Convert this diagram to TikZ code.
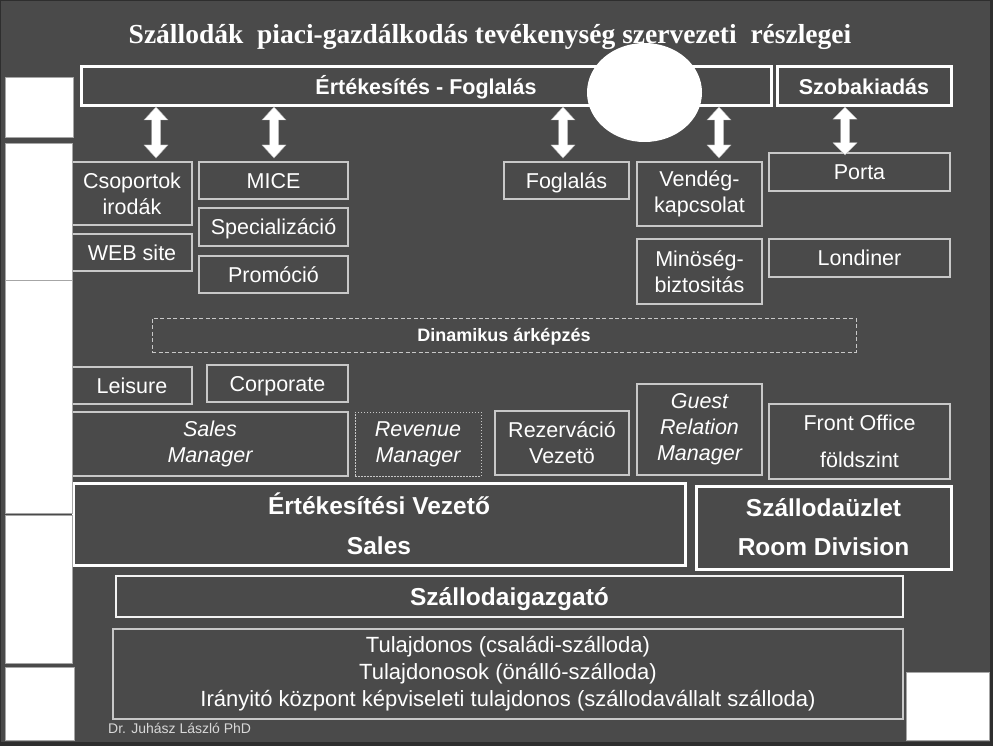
\documentclass[tikz,border=0pt]{standalone}
\usepackage{fontspec}
\setmainfont{Liberation Sans}
\newfontfamily\titlefont{Liberation Serif}
\usetikzlibrary{shapes.geometric}
\definecolor{bg}{HTML}{4A4A4A}
\definecolor{framec}{HTML}{2E2E2E}
\definecolor{thinc}{HTML}{C8C8C8}
\definecolor{footc}{HTML}{D8D8D8}
\newcommand{\regfont}{\fontsize{21.5}{26}\selectfont}
\newcommand{\bigbold}{\fontsize{24.5}{39}\selectfont\bfseries}
\tikzset{
  box/.style={draw=thinc, line width=1.3pt, inner sep=0pt, text=white, align=center, font=\regfont},
  oneline/.style={text height=15.5pt, text depth=0pt},
  thickbox/.style={draw=white, line width=3pt},
  leftbox/.style={fill=white, draw=gray!70, line width=0.8pt},
  dblarrow/.pic={\fill[white, draw=gray!60, line width=0.4pt] (0,-25.5) -- (12,-12.5) -- (4.5,-12.5) -- (4.5,12.5) -- (12,12.5) -- (0,25.5) -- (-12,12.5) -- (-4.5,12.5) -- (-4.5,-12.5) -- (-12,-12.5) -- cycle;}
}
\begin{document}
\begin{tikzpicture}[x=1pt, y=-1pt]
\useasboundingbox (0,0) rectangle (993,746);
\fill[framec] (0,0) rectangle (993,746);
\fill[bg] (1,1) rectangle (990,742);

% title
\node[anchor=base, text=white, inner sep=0pt, font=\titlefont\bfseries\fontsize{27.5}{30}\selectfont] (title) at (490,44)
  {Szállodák\ \ piaci-gazdálkodás tevékenység szervezeti\ \ részlegei};

% top bars
\node[box, thickbox, oneline, font=\regfont\bfseries, minimum width=690pt, minimum height=39pt] (ef) at (426,86.5) {Értékesítés - Foglalás};
\node[box, thickbox, oneline, font=\regfont\bfseries, minimum width=174pt, minimum height=39pt] (szk) at (864,86.5) {Szobakiadás};

% second row
\node[box, minimum width=120pt, minimum height=63pt] (csop) at (132,193.5) {Csoportok\\irodák};
\node[box, oneline, minimum width=120pt, minimum height=37pt] (web) at (132,252.5) {WEB site};
\node[box, oneline, minimum width=149pt, minimum height=37pt] (mice) at (273.5,180.5) {MICE};
\node[box, oneline, minimum width=149pt, minimum height=38pt] (spec) at (273.5,227) {Specializáció};
\node[box, oneline, minimum width=149pt, minimum height=37pt] (promo) at (273.5,274.5) {Promóció};
\node[box, oneline, minimum width=125pt, minimum height=37pt] (fogl) at (566.5,180.5) {Foglalás};
\node[box, minimum width=125pt, minimum height=64pt] (vend) at (699.5,194) {Vendég-\\kapcsolat};
\node[box, oneline, minimum width=181pt, minimum height=38pt] (porta) at (859.5,172) {Porta};
\node[box, minimum width=125pt, minimum height=65pt] (minos) at (699.5,271.5) {Minöség-\\biztositás};
\node[box, oneline, minimum width=181pt, minimum height=38pt] (lond) at (859.5,258) {Londiner};

% dynamic pricing
\node[box, oneline, draw=thinc, line width=0.9pt, dash pattern=on 4pt off 2.5pt, font=\fontsize{18}{21}\selectfont\bfseries, text height=13pt, minimum width=704pt, minimum height=34pt] (dyn) at (504,335) {Dinamikus árképzés};

% third row
\node[box, oneline, minimum width=120pt, minimum height=37pt] (leis) at (132,385.5) {Leisure};
\node[box, oneline, minimum width=141pt, minimum height=37pt] (corp) at (277.5,383.5) {Corporate};
\node[box, font=\regfont\itshape, minimum width=276pt, minimum height=64pt] (salesm) at (210,444) {Sales\\Manager};
\node[box, font=\regfont\itshape, line width=0.9pt, dash pattern=on 1.5pt off 1.5pt, minimum width=126pt, minimum height=64pt] (revm) at (418,444) {Revenue\\Manager};
\node[box, minimum width=134pt, minimum height=64pt] (rez) at (562,443) {Rezerváció\\Vezetö};
\node[box, font=\regfont\itshape, minimum width=125pt, minimum height=91pt] (grm) at (699.5,429.5) {Guest\\Relation\\Manager};
\node[box, font=\fontsize{21.5}{37}\selectfont, minimum width=181pt, minimum height=75pt] (fo) at (859.5,441.5) {Front Office\\földszint};

% big boxes
\node[box, thickbox, font=\fontsize{24.5}{40}\selectfont\bfseries, minimum width=612pt, minimum height=82pt] (ev) at (379,524) {Értékesítési Vezető\\Sales};
\node[box, thickbox, font=\bigbold, minimum width=255pt, minimum height=83pt] (rd) at (823.5,527.5) {Szállodaüzlet\\Room Division};
\node[box, oneline, draw=white!90!gray, line width=2.5pt, font=\fontsize{24.5}{30}\selectfont\bfseries, text height=17.6pt, minimum width=787pt, minimum height=41pt] (igazg) at (509.5,596.5) {Szállodaigazgató};
\node[box, font=\fontsize{22}{27}\selectfont, minimum width=790pt, minimum height=90pt] (tul) at (508,674)
  {Tulajdonos (családi-szálloda)\\Tulajdonosok (önálló-szálloda)\\Irányitó központ képviseleti tulajdonos (szállodavállalt szálloda)};

\node[anchor=base west, inner sep=0pt, text=footc, font=\fontsize{14}{16}\selectfont] (auth) at (108,733) {Dr. Juhász László PhD};

% double arrows
\pic at (156,132.5) {dblarrow};
\pic at (274,132.5) {dblarrow};
\pic at (563,132.5) {dblarrow};
\pic at (719,132.5) {dblarrow};
\pic[yscale=0.94] at (845,131) {dblarrow};

% white ellipse
\node[ellipse, fill=white, inner sep=0pt, minimum width=115pt, minimum height=99pt] (blob) at (644.5,92.5) {};

% white boxes at the edges
\filldraw[leftbox] (5,77) rectangle (73,137);
\filldraw[leftbox] (5,143) rectangle (72,280);
\filldraw[leftbox] (5,280) rectangle (72,513);
\filldraw[leftbox] (5,515) rectangle (72,663);
\filldraw[leftbox] (5,667) rectangle (74,740);
\filldraw[leftbox] (906,672) rectangle (989,740);
\end{tikzpicture}
\end{document}
